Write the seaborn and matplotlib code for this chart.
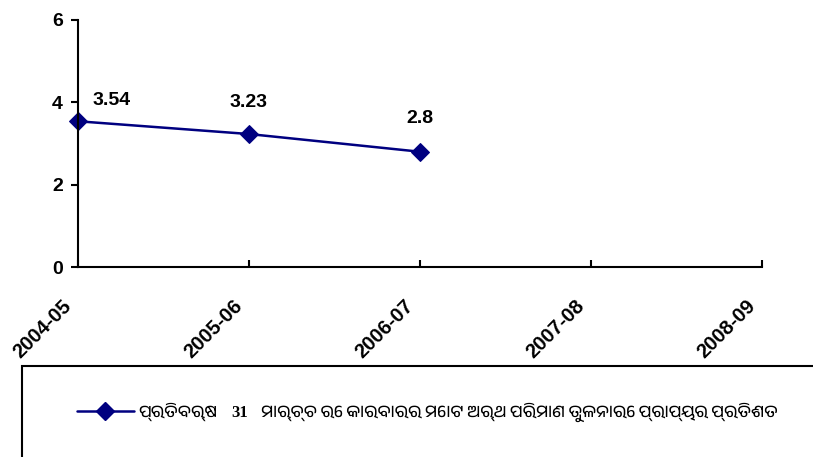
import numpy as np
import matplotlib
matplotlib.use("Agg")
import matplotlib.pyplot as plt
import seaborn as sns
from matplotlib import font_manager
from matplotlib.lines import Line2D
from matplotlib.patches import Rectangle
from matplotlib.transforms import ScaledTranslation

# data
years = ["2004-05", "2005-06", "2006-07", "2007-08", "2008-09"]
percent = [3.54, 3.23, 2.8, np.nan, np.nan]
legend_parts = ["ପ୍ରତିବର୍ଷ", "31", "ମାର୍ଚ୍ଚ ରେ କାରବାରର ମୋଟ ଅର୍ଥ ପରିମାଣ ତୁଳନାରେ ପ୍ରାପ୍ୟର ପ୍ରତିଶତ"]

sns.set_style("white")
plt.rcParams['font.family'] = ['Liberation Sans', 'DejaVu Sans']
plt.rcParams['text.color'] = 'black'
plt.rcParams['xtick.color'] = 'black'
plt.rcParams['ytick.color'] = 'black'

# look for any font that can draw Odia, fall back otherwise
odia_fonts = [f.name for f in font_manager.fontManager.ttflist
              if 'Oriya' in f.name or 'Odia' in f.name]
odia_family = list(dict.fromkeys(odia_fonts)) + ['Noto Sans', 'DejaVu Sans']

navy = '#000080'
W, H = 813, 457
fig = plt.figure(figsize=(W / 100, H / 100), dpi=100)
ax = fig.add_axes([78 / W, 1 - 267 / H, 684 / W, 247 / H])

pos = np.arange(len(years))
sns.lineplot(x=pos, y=percent, ax=ax, color=navy, linewidth=1.8,
             marker='D', markersize=9.5, markeredgecolor=navy, clip_on=False)

# value labels
offsets = [(24, 15), (0, 23), (0, 24)]
for x, v, off in zip(pos, percent, offsets):
    if not np.isnan(v):
        ax.annotate(f"{v:g}", (x, v), xytext=off, textcoords='offset points',
                    ha='center', va='center', fontsize=14, fontweight='bold')

ax.set_xlim(0, len(years) - 1)
ax.set_ylim(0, 6)
ax.set_yticks([0, 2, 4, 6])
ax.set_xticks(pos)

for s in ['top', 'right']:
    ax.spines[s].set_visible(False)
for s in ['left', 'bottom']:
    ax.spines[s].set_color('black')
    ax.spines[s].set_linewidth(1.5)
ax.tick_params(axis='y', direction='out', length=5, width=1.5, left=True, pad=6)
ax.tick_params(axis='x', direction='in', length=5, width=1.5, bottom=True, pad=21)
ax.grid(False)

ax.set_xticklabels(years, rotation=45, ha='right', va='top', rotation_mode='anchor',
                   fontsize=14.5, fontweight='bold')
shift = ScaledTranslation(-16 / 100, 0, fig.dpi_scale_trans)
for lab in ax.get_xticklabels():
    lab.set_transform(lab.get_transform() + shift)
for lab in ax.get_yticklabels():
    lab.set_fontweight('bold')
    lab.set_fontsize(14)

# legend box at the bottom
fig.patches.append(Rectangle((22 / W, -0.05), 1.0, 1.05 - 366 / H,
                             transform=fig.transFigure, fill=False,
                             edgecolor='black', linewidth=1.5))
handle = Line2D([], [], color=navy, linewidth=1.8, marker='D', markersize=9.5)
leg = fig.legend([handle], [legend_parts[0]], loc='center left',
                 bbox_to_anchor=(62 / W, 1 - 412 / H), frameon=False,
                 handlelength=3.4, handletextpad=0.3,
                 prop={'family': odia_family, 'size': 12})

# the rest of the legend label follows the first word
fig.canvas.draw()
x_end = leg.get_texts()[0].get_window_extent().x1
num = fig.text((x_end + 14) / W, 1 - 413 / H, legend_parts[1], family=['Liberation Serif'],
               fontsize=12, fontweight='bold', va='center', ha='left')
fig.canvas.draw()
x_end = num.get_window_extent().x1
fig.text((x_end + 12) / W, 1 - 412 / H, legend_parts[2], family=odia_family,
         fontsize=12, va='center', ha='left')

fig.savefig('out.png', dpi=100)
